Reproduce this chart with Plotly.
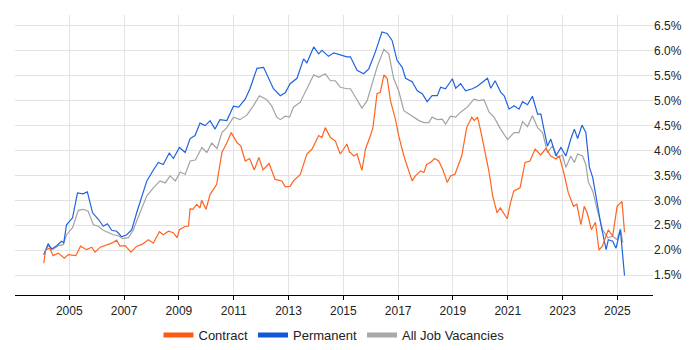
import plotly.graph_objects as go

# Permanent
perm_x = [2004.07,2004.23,2004.35,2004.54,2004.72,2004.8,2004.9,2005.12,2005.3,2005.5,2005.66,2005.85,2006.06,2006.24,2006.39,2006.55,2006.73,2006.91,2007.1,2007.28,2007.46,2007.64,2007.83,2008.07,2008.25,2008.43,2008.65,2008.8,2009.02,2009.23,2009.41,2009.59,2009.77,2009.96,2010.14,2010.32,2010.5,2010.75,2010.99,2011.18,2011.42,2011.6,2011.85,2012.09,2012.27,2012.45,2012.7,2012.88,2013.06,2013.31,2013.55,2013.67,2013.92,2014.1,2014.22,2014.46,2014.65,2014.89,2015.13,
          2015.26,2015.5,2015.74,2015.93,2016.17,2016.41,2016.6,2016.78,2016.96,2017.15,2017.27,2017.51,2017.7,2017.88,2018.06,2018.24,2018.43,2018.55,2018.73,2018.98,2019.1,2019.28,2019.46,2019.71,2019.89,2020.07,2020.26,2020.38,2020.54,2020.74,2020.87,2021.05,2021.23,2021.41,2021.54,2021.72,2021.9,2022.09,2022.21,2022.33,2022.45,2022.57,2022.76,2022.94,2023.12,2023.3,2023.43,2023.55,2023.71,2023.85,2023.98,2024.1,2024.28,2024.4,2024.59,2024.67,2024.83,2024.95,2025.11,2025.26]
perm_y = [1.91,2.13,2.02,2.09,2.18,2.15,2.51,2.65,3.15,3.13,3.17,2.75,2.62,2.48,2.53,2.40,2.38,2.27,2.31,2.41,2.75,3.05,3.39,3.61,3.76,3.72,3.95,3.84,4.06,3.96,4.24,4.30,4.55,4.50,4.60,4.43,4.62,4.60,4.89,4.87,5.03,5.25,5.65,5.67,5.44,5.24,5.10,5.16,5.34,5.45,5.84,5.76,6.08,5.94,6.01,5.89,5.96,5.92,5.88,
          5.88,5.61,5.54,5.64,5.98,6.38,6.35,6.21,5.81,5.67,5.45,5.38,5.20,5.14,4.98,5.10,5.10,5.27,5.24,5.44,5.25,5.34,5.20,5.24,5.29,5.37,5.45,5.25,5.40,5.17,5.10,4.83,4.90,4.83,4.98,4.92,5.09,4.73,4.73,4.40,4.09,4.23,3.89,4.06,3.89,4.23,4.43,4.24,4.51,4.36,3.66,3.46,2.88,2.51,2.01,2.21,2.18,2.04,2.41,1.49]

# All Job Vacancies
all_x = [2004.07,2004.23,2004.41,2004.6,2004.78,2004.9,2005.12,2005.33,2005.51,2005.69,2005.88,2006.06,2006.24,2006.43,2006.61,2006.79,2006.95,2007.16,2007.34,2007.58,2007.83,2008.07,2008.31,2008.5,2008.68,2008.87,2009.05,2009.23,2009.41,2009.6,2009.84,2010.02,2010.2,2010.39,2010.57,2010.75,2010.99,2011.23,2011.48,2011.72,2011.94,2012.21,2012.39,2012.57,2012.7,2012.88,2013.04,2013.18,2013.43,2013.67,2013.92,2014.1,2014.34,2014.53,2014.71,2014.89,2015.13,
         2015.26,2015.44,2015.68,2015.87,2016.05,2016.23,2016.48,2016.66,2016.84,2017.02,2017.21,2017.39,2017.57,2017.76,2017.94,2018.12,2018.24,2018.43,2018.61,2018.73,2018.91,2019.1,2019.28,2019.52,2019.77,2019.95,2020.13,2020.32,2020.5,2020.74,2020.99,2021.23,2021.41,2021.54,2021.72,2021.9,2022.09,2022.27,2022.45,2022.63,2022.82,2023.0,2023.12,2023.3,2023.43,2023.55,2023.73,2023.85,2023.94,2024.1,2024.28,2024.46,2024.65,2024.83,2024.99,2025.11,2025.2]
all_y = [1.91,2.09,2.02,2.09,2.11,2.31,2.45,2.80,2.82,2.78,2.51,2.48,2.40,2.35,2.31,2.29,2.23,2.25,2.41,2.75,3.09,3.25,3.39,3.35,3.49,3.39,3.57,3.52,3.79,3.81,4.06,3.96,4.15,4.04,4.36,4.46,4.67,4.62,4.71,4.90,5.10,5.02,4.89,4.67,4.62,4.69,4.67,4.87,4.97,5.24,5.52,5.47,5.54,5.40,5.40,5.27,5.24,
         5.24,5.07,4.85,5.00,5.34,5.67,6.03,5.94,5.44,5.20,4.80,4.73,4.67,4.60,4.56,4.56,4.67,4.62,4.63,4.53,4.69,4.67,4.77,4.87,5.03,5.00,5.02,4.77,4.67,4.43,4.22,4.36,4.36,4.58,4.48,4.70,4.46,4.36,3.96,4.09,3.86,3.91,3.66,3.89,3.76,3.93,3.89,3.72,3.37,3.19,2.78,2.41,2.25,2.28,2.21,2.43,2.15]

# Contract
con_x = [2004.07,2004.14,2004.29,2004.41,2004.6,2004.82,2004.96,2005.24,2005.41,2005.63,2005.82,2005.94,2006.13,2006.35,2006.55,2006.73,2006.85,2007.04,2007.25,2007.46,2007.64,2007.89,2008.07,2008.29,2008.43,2008.62,2008.8,2008.93,2009.02,2009.23,2009.35,2009.41,2009.51,2009.65,2009.77,2009.83,2009.99,2010.14,2010.38,2010.57,2010.75,2010.91,2011.12,2011.26,2011.42,2011.58,2011.75,2011.92,2012.07,2012.29,2012.51,2012.76,2012.88,2013.06,2013.18,2013.43,2013.67,2013.86,2014.1,2014.22,2014.34,2014.53,2014.71,2014.89,2015.13,2015.23,
         2015.26,2015.38,2015.5,2015.68,2015.81,2015.99,2016.08,2016.23,2016.35,2016.48,2016.6,2016.72,2016.9,2017.02,2017.21,2017.39,2017.51,2017.63,2017.82,2017.94,2018.04,2018.18,2018.33,2018.48,2018.63,2018.79,2018.91,2019.07,2019.32,2019.5,2019.69,2019.78,2019.9,2020.05,2020.31,2020.45,2020.61,2020.73,2020.98,2021.1,2021.22,2021.45,2021.63,2021.81,2022.0,2022.2,2022.39,2022.57,2022.76,2022.88,2023.06,2023.21,2023.4,2023.52,2023.67,2023.79,2023.9,2024.05,2024.2,2024.33,2024.45,2024.67,2024.83,2024.99,2025.17,2025.26]
con_y = [1.74,2.01,2.04,1.89,1.94,1.84,1.91,1.89,2.08,2.01,2.06,1.96,2.06,2.11,2.14,2.20,2.08,2.09,1.96,2.08,2.11,2.21,2.14,2.37,2.31,2.38,2.35,2.25,2.41,2.48,2.48,2.83,2.82,2.92,2.85,3.00,2.82,3.12,3.32,3.96,4.15,4.36,4.16,4.09,3.79,3.84,3.61,3.86,3.61,3.74,3.42,3.39,3.27,3.28,3.39,3.52,3.93,4.03,4.30,4.26,4.46,4.26,4.19,3.93,4.13,3.96,
         3.96,3.89,3.93,3.60,4.03,4.30,4.46,5.14,5.17,5.52,5.45,5.00,4.63,4.30,3.89,3.59,3.39,3.49,3.59,3.56,3.72,3.76,3.84,3.79,3.62,3.36,3.49,3.52,3.89,4.46,4.67,4.60,4.67,4.30,3.59,3.09,2.75,2.85,2.63,2.95,3.19,3.25,3.76,3.79,4.03,3.91,4.04,3.89,3.83,3.89,3.52,3.15,2.88,2.92,2.51,2.88,2.75,2.41,2.56,2.00,2.08,2.41,2.28,2.88,2.98,2.36]

tick_years = [2005, 2007, 2009, 2011, 2013, 2015, 2017, 2019, 2021, 2023, 2025]
y_ticks = [1.5, 2.0, 2.5, 3.0, 3.5, 4.0, 4.5, 5.0, 5.5, 6.0, 6.5]

C_CON = "#FF6420"
C_PERM = "#1F63E0"
C_ALL = "#A3A3A3"

fig = go.Figure()
fig.add_trace(go.Scatter(x=all_x, y=all_y, mode="lines", line=dict(color=C_ALL, width=1.2), showlegend=False, hoverinfo="skip"))
fig.add_trace(go.Scatter(x=perm_x, y=perm_y, mode="lines", line=dict(color=C_PERM, width=1.2), showlegend=False))
fig.add_trace(go.Scatter(x=con_x, y=con_y, mode="lines", line=dict(color=C_CON, width=1.2), showlegend=False))
for name, col in [("Contract", "#FF5A14"), ("Permanent", "#0F58D8"), ("All Job Vacancies", "#A8A8A8")]:
    fig.add_trace(go.Scatter(x=[None], y=[None], mode="lines", name=name, line=dict(color=col, width=5)))

fig.update_layout(
    width=700, height=350,
    margin=dict(l=7, r=55, t=7, b=63, autoexpand=False),
    paper_bgcolor="white", plot_bgcolor="white",
    font=dict(family="Liberation Sans, Arial, sans-serif", size=12, color="#222"),
    legend=dict(orientation="h", x=0.5, xanchor="center", y=-0.143, yanchor="middle",
                font=dict(size=13), itemwidth=30, tracegroupgap=0),
    xaxis=dict(range=[2003.02, 2026.3], tickvals=tick_years, ticktext=[str(t) for t in tick_years],
               automargin=False,
               showgrid=True, gridcolor="#e3e3e3", gridwidth=1, zeroline=False,
               showline=True, linecolor="black", linewidth=1.3, ticks="outside", ticklen=4, tickcolor="black"),
    yaxis=dict(range=[1.1, 6.72], side="right", tickvals=y_ticks, ticktext=[f"{v:.1f}%" for v in y_ticks],
               automargin=False,
               showgrid=True, gridcolor="#e3e3e3", gridwidth=1, zeroline=False, showline=False, ticks=""),
)
fig.write_html("out.html")
